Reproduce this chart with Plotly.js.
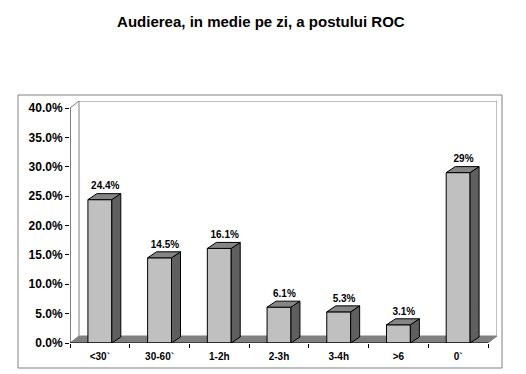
<!DOCTYPE html>
<html>
<head>
<meta charset="utf-8">
<script src="https://cdn.plot.ly/plotly-3.0.1.min.js"></script>
<style>html,body{margin:0;padding:0;background:#fff;}#chart{width:526px;height:374px;}</style>
</head>
<body>
<div id="chart"></div>
<script>
// ---- data ----
const categories = ['<30`', '30-60`', '1-2h', '2-3h', '3-4h', '>6', '0`'];
const values = [24.4, 14.5, 16.1, 6.1, 5.3, 3.1, 29];
const yTickVals = [0, 5, 10, 15, 20, 25, 30, 35, 40];
const yTickText = yTickVals.map(v => v.toFixed(1) + '%');
const titleText = 'Audierea, in medie pe zi, a postului ROC';

// ---- geometry ----
const W = 526, H = 374;
const M = {l: 70, r: 29, t: 101, b: 31};
const plotW = W - M.l - M.r, plotH = H - M.t - M.b;
const nCat = categories.length;
const yMaxTick = 40;
const depthPx = 9, wallDyPx = 7, barDyPx = 6;
const xMax = nCat * plotW / (plotW - depthPx);
const yMax = yMaxTick * plotH / (plotH - wallDyPx);
const pxPerX = plotW / xMax, pxPerY = plotH / yMax;
const ddx = depthPx / pxPerX;
const wdy = wallDyPx / pxPerY;
const bdy = barDyPx / pxPerY;
const halfW = 0.2;

const centers = categories.map((c, i) => i + 0.5);

// side & top faces built from data
const sideX = [], sideY = [], topX = [], topY = [];
values.forEach((v, i) => {
  const x0 = centers[i] - halfW, x1 = centers[i] + halfW;
  sideX.push(x1, x1 + ddx, x1 + ddx, x1, x1, null);
  sideY.push(0, bdy, v + bdy, v, 0, null);
  topX.push(x0, x1, x1 + ddx, x0 + ddx, x0, null);
  topY.push(v, v, v + bdy, v + bdy, v, null);
});
const labelText = values.map(v => (Number.isInteger(v) ? v.toString() : v.toFixed(1)) + '%');

const FONT = 'Liberation Sans, Arial, sans-serif';

const traces = [
  {type: 'bar', x: centers, y: values, width: 2 * halfW,
   marker: {color: '#C0C0C0', line: {color: '#000', width: 1}},
   hoverinfo: 'skip', showlegend: false},
  {type: 'scatter', mode: 'lines', x: sideX, y: sideY, fill: 'toself',
   fillcolor: '#5F5F5F', line: {color: '#000', width: 1}, hoverinfo: 'skip', showlegend: false},
  {type: 'scatter', mode: 'lines', x: topX, y: topY, fill: 'toself',
   fillcolor: '#858585', line: {color: '#000', width: 1}, hoverinfo: 'skip', showlegend: false},
  {type: 'scatter', mode: 'text', xaxis: 'x2',
   x: centers.map(c => c + ddx * 0.6), y: values.map(v => v + bdy + 0.3),
   text: labelText, textposition: 'top center', cliponaxis: false,
   textfont: {family: FONT, size: 10, color: '#000', weight: 'bold'},
   hoverinfo: 'skip', showlegend: false}
];

function pxX(p) { return (p - M.l) / plotW; }
function pxY(p) { return (H - M.b - p) / plotH; }

const grey = '#808080';
const shapes = [
  // outer frame
  {type: 'rect', xref: 'paper', yref: 'paper', x0: pxX(18), x1: pxX(502), y0: pxY(368), y1: pxY(95),
   line: {color: grey, width: 1}, layer: 'below'},
  // floor
  {type: 'path', xref: 'x', yref: 'y', layer: 'below',
   path: `M0,0 L${nCat},0 L${nCat + ddx},${wdy} L${ddx},${wdy} Z`,
   fillcolor: grey, line: {color: grey, width: 1}},
  // back wall edges
  {type: 'line', xref: 'x', yref: 'y', x0: ddx, x1: ddx, y0: wdy, y1: yMaxTick + wdy, line: {color: grey, width: 1}, layer: 'below'},
  {type: 'line', xref: 'x', yref: 'y', x0: ddx, x1: nCat + ddx, y0: yMaxTick + wdy, y1: yMaxTick + wdy, line: {color: grey, width: 1}, layer: 'below'},
  {type: 'line', xref: 'x', yref: 'y', x0: nCat + ddx, x1: nCat + ddx, y0: wdy, y1: yMaxTick + wdy, line: {color: grey, width: 1}, layer: 'below'},
  {type: 'line', xref: 'x', yref: 'y', x0: 0, x1: ddx, y0: yMaxTick, y1: yMaxTick + wdy, line: {color: grey, width: 1}, layer: 'below'},
  // front axis lines
  {type: 'line', xref: 'x', yref: 'y', x0: 0, x1: 0, y0: 0, y1: yMaxTick, line: {color: '#000', width: 1}},
  {type: 'line', xref: 'x', yref: 'y', x0: 0, x1: nCat, y0: 0, y1: 0, line: {color: '#000', width: 1}}
];

const layout = {
  width: W, height: H,
  margin: M,
  paper_bgcolor: '#fff', plot_bgcolor: 'rgba(0,0,0,0)',
  showlegend: false,
  title: {text: titleText, x: 0.496, xref: 'container', xanchor: 'center',
          y: 1 - 22 / H, yref: 'container', yanchor: 'middle',
          font: {family: FONT, size: 15, color: '#000', weight: 'bold'}},
  xaxis: {range: [0, xMax], tickvals: centers, ticktext: categories, ticks: '',
          ticklabelstandoff: 6,
          showgrid: false, zeroline: false, showline: false, fixedrange: true,
          tickfont: {family: FONT, size: 10, color: '#000', weight: 'bold'}},
  xaxis2: {range: [0, xMax], overlaying: 'x', anchor: 'y', side: 'bottom',
           tickvals: Array.from({length: nCat + 1}, (_, i) => i), ticks: 'outside', ticklen: 4,
           tickcolor: '#000', showticklabels: false, showgrid: false, zeroline: false, showline: false},
  yaxis: {range: [0, yMax], tickvals: yTickVals, ticktext: yTickText,
          ticks: 'outside', ticklen: 4, tickcolor: '#000', showgrid: false, zeroline: false,
          showline: false, fixedrange: true,
          tickfont: {family: FONT, size: 12, color: '#000', weight: 'bold'}},
  shapes: shapes,
  bargap: 0
};

Plotly.newPlot('chart', traces, layout, {staticPlot: true, displayModeBar: false});
</script>
</body>
</html>
